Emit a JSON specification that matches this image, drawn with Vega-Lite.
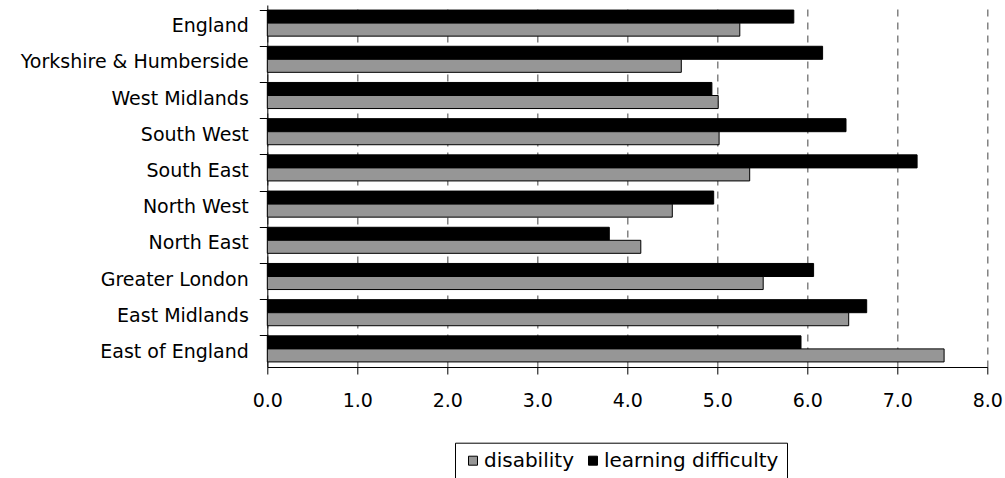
{
  "$schema": "https://vega.github.io/schema/vega-lite/v6.json",
  "width": 720,
  "height": 362,
  "autosize": {"type": "none"},
  "padding": {"left": 267.3, "top": 5, "right": 17.7, "bottom": 111},
  "background": "white",
  "config": {"view": {"stroke": null}, "font": "DejaVu Sans"},
  "data": {
    "values": [
      {"region": "England", "measure": "learning difficulty", "value": 5.85},
      {"region": "England", "measure": "disability", "value": 5.25},
      {"region": "Yorkshire &  Humberside", "measure": "learning difficulty", "value": 6.17},
      {"region": "Yorkshire &  Humberside", "measure": "disability", "value": 4.6},
      {"region": "West Midlands", "measure": "learning difficulty", "value": 4.94},
      {"region": "West Midlands", "measure": "disability", "value": 5.01},
      {"region": "South West", "measure": "learning difficulty", "value": 6.43},
      {"region": "South West", "measure": "disability", "value": 5.02},
      {"region": "South East", "measure": "learning difficulty", "value": 7.22},
      {"region": "South East", "measure": "disability", "value": 5.36},
      {"region": "North West", "measure": "learning difficulty", "value": 4.96},
      {"region": "North West", "measure": "disability", "value": 4.5},
      {"region": "North East", "measure": "learning difficulty", "value": 3.8},
      {"region": "North East", "measure": "disability", "value": 4.15},
      {"region": "Greater London", "measure": "learning difficulty", "value": 6.07},
      {"region": "Greater London", "measure": "disability", "value": 5.51},
      {"region": "East Midlands", "measure": "learning difficulty", "value": 6.66},
      {"region": "East Midlands", "measure": "disability", "value": 6.46},
      {"region": "East of England", "measure": "learning difficulty", "value": 5.93},
      {"region": "East of England", "measure": "disability", "value": 7.52}
    ]
  },
  "mark": {"type": "bar", "stroke": "black", "strokeWidth": 1},
  "encoding": {
    "y": {
      "field": "region",
      "type": "nominal",
      "sort": null,
      "scale": {"paddingInner": 0.28, "paddingOuter": 0.14},
      "axis": {
        "title": null,
        "bandPosition": 0,
        "labelFontSize": 19,
        "labelFont": "DejaVu Sans",
        "labelColor": "black",
        "labelPadding": 11,
        "labelLimit": 400,
        "labelOffset": 3,
        "tickSize": 8,
        "tickColor": "black",
        "domainColor": "black",
        "grid": false
      }
    },
    "yOffset": {
      "field": "measure",
      "scale": {"domain": ["learning difficulty", "disability"]}
    },
    "x": {
      "field": "value",
      "type": "quantitative",
      "scale": {"domain": [0, 8], "nice": false},
      "axis": {
        "title": null,
        "values": [0, 1, 2, 3, 4, 5, 6, 7, 8],
        "format": ".1f",
        "labelFlush": false,
        "labelFontSize": 19,
        "labelFont": "DejaVu Sans",
        "labelColor": "black",
        "labelPadding": 17,
        "tickSize": 7,
        "tickColor": "black",
        "domainColor": "black",
        "grid": true,
        "gridDash": [7, 6],
        "gridColor": "#707070",
        "gridWidth": 1.3
      }
    },
    "color": {
      "field": "measure",
      "type": "nominal",
      "scale": {"domain": ["disability", "learning difficulty"], "range": ["#969696", "#000000"]},
      "legend": {
        "orient": "none",
        "legendX": 187.7,
        "legendY": 437.7,
        "direction": "horizontal",
        "title": null,
        "strokeColor": "black",
        "fillColor": "white",
        "padding": 8,
        "symbolType": "square",
        "symbolSize": 81,
        "symbolStrokeColor": "black",
        "symbolStrokeWidth": 1,
        "symbolOpacity": 1,
        "labelFontSize": 20,
        "labelFont": "DejaVu Sans",
        "labelColor": "black",
        "labelLimit": 400,
        "columnPadding": 9,
        "labelOffset": 1
      }
    }
  }
}
